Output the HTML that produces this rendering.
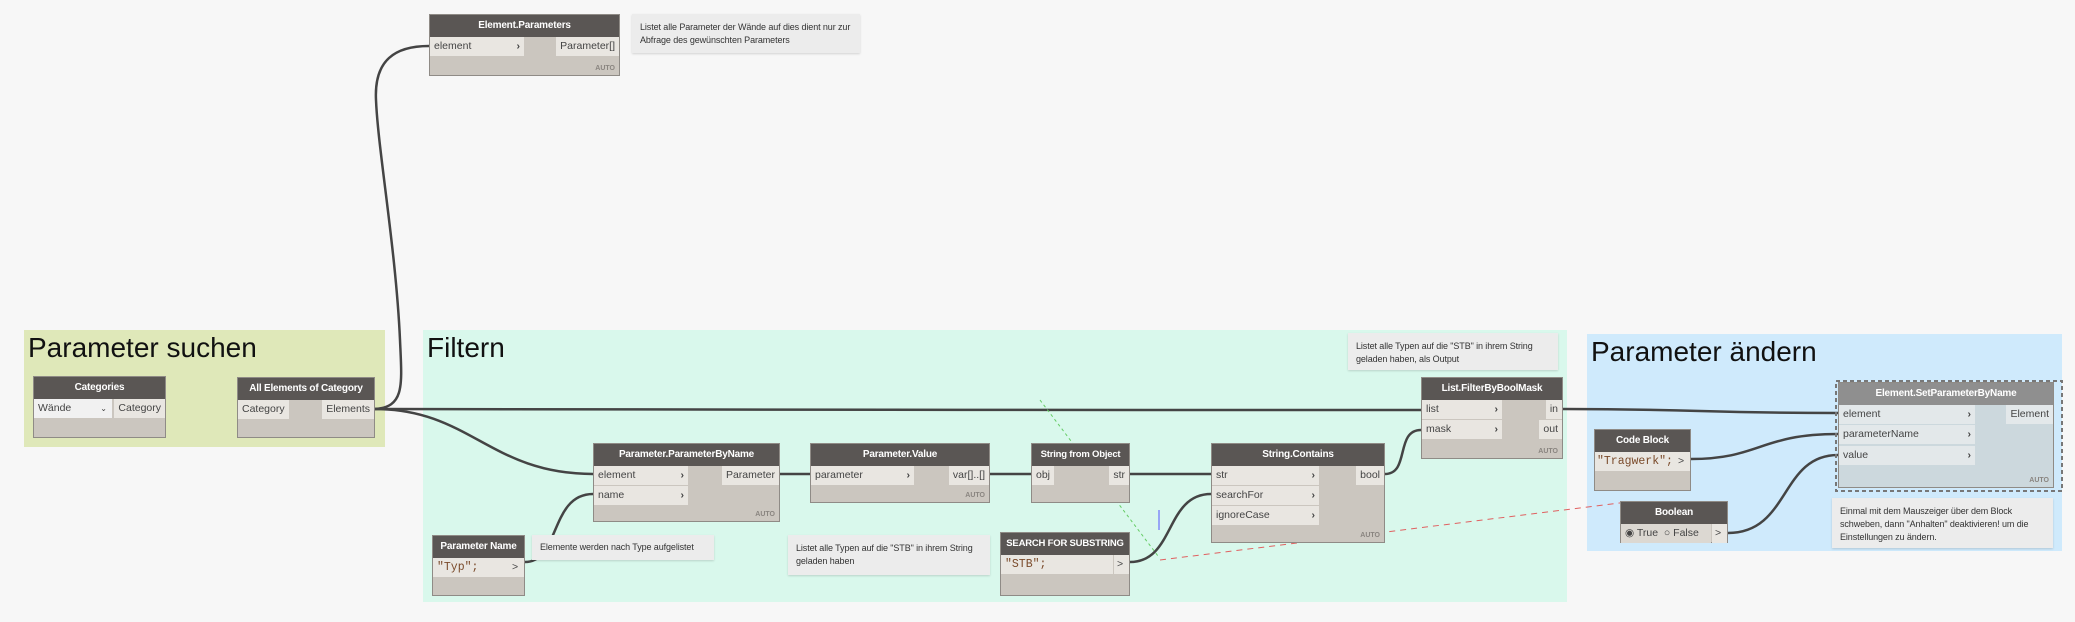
<!DOCTYPE html>
<html><head><meta charset="utf-8"><style>
body{margin:0;width:2075px;height:622px;background:#f7f7f7;position:relative;overflow:hidden;font-family:"Liberation Sans",sans-serif;}
.g{position:absolute;}
.gt{position:absolute;font-size:28px;color:#111;left:4px;top:2px;white-space:nowrap;}
.n{position:absolute;background:#cbc6bf;border:1px solid #8f8b86;box-sizing:border-box;}
.h{background:#5a5654;color:#fff;font-weight:bold;font-size:10px;letter-spacing:-0.2px;text-align:center;height:22px;line-height:22px;white-space:nowrap;overflow:hidden;}
.p{position:absolute;background:#e9e6e1;font-size:10.5px;color:#444;height:19px;line-height:19px;padding:0 4px;box-sizing:border-box;white-space:nowrap;}
.a{position:absolute;font-size:7px;font-weight:bold;color:#8a8580;}
.note{position:absolute;background:#ececec;font-size:9px;letter-spacing:-0.1px;color:#333;padding:7px 8px;box-sizing:border-box;line-height:13px;box-shadow:0 1px 2px rgba(0,0,0,.15);}
.mono{font-family:"Liberation Mono",monospace;color:#7a4a2a;font-size:11.5px;}
</style></head><body>
<div class="g" style="left:24px;top:330px;width:361px;height:117px;background:#dfe8b9"><div class="gt">Parameter suchen</div></div>
<div class="g" style="left:423px;top:330px;width:1144px;height:272px;background:#d9f8ec"><div class="gt">Filtern</div></div>
<div class="g" style="left:1587px;top:334px;width:475px;height:217px;background:#cfeafc"><div class="gt">Parameter ändern</div></div>

<svg width="2075" height="622" style="position:absolute;left:0;top:0" fill="none">
<g stroke="#444" stroke-width="2.5">
<path d="M375 409 C 1000 410, 900 410, 1421 410"/>
<path d="M375 409 C 405 407, 402 385, 400 340 C 396 250, 378 150, 376 100 C 374 60, 395 46, 429 46"/>
<path d="M375 409 C 470 409, 490 474, 593 474"/>
<path d="M525 562 C 560 562, 550 494, 593 494"/>
<path d="M780 474 L810 474"/>
<path d="M990 474 L1031 474"/>
<path d="M1130 474 L1211 474"/>
<path d="M1130 562 C 1175 562, 1165 494, 1211 494"/>
<path d="M1385 474 C 1410 474, 1395 430, 1421 430"/>
<path d="M1563 409 C 1700 409, 1700 413, 1838 413"/>
<path d="M1691 459 C 1760 459, 1760 434, 1838 434"/>
<path d="M1728 533 C 1790 533, 1780 455, 1838 455"/>
</g>
<path d="M1160 560 L1628 502" stroke="#e06060" stroke-width="1" stroke-dasharray="6,5"/>
<path d="M1040 400 L1158 556" stroke="#6c6" stroke-width="1" stroke-dasharray="3,3"/>
<path d="M1159 510 L1159 530" stroke="#55f" stroke-width="1"/>
<rect x="1836" y="381" width="226" height="110" stroke="#777" stroke-width="2" stroke-dasharray="4,3"/>
</svg>

<div class="n" style="left:429px;top:14px;width:191px;height:62px">
<div class="h">Element.Parameters</div>
<div class="p" style="left:0;top:22px;width:94px">element<span style="position:absolute;right:4px;font-weight:bold">›</span></div>
<div class="p" style="right:0;top:22px;">Parameter[]</div>
<div class="a" style="right:4px;bottom:3px">AUTO</div></div>
<div class="note" style="left:632px;top:14px;width:228px;height:39px">Listet alle Parameter der Wände auf dies dient nur zur Abfrage des gewünschten Parameters</div>

<div class="n" style="left:33px;top:376px;width:133px;height:62px">
<div class="h">Categories</div>
<div class="p" style="left:0;top:22px;width:78px;background:#f1f1f1">Wände<span style="position:absolute;right:5px;font-size:8px">⌄</span></div>
<div class="p" style="right:0;top:22px;">Category</div></div>
<div class="n" style="left:237px;top:377px;width:138px;height:61px">
<div class="h">All Elements of Category</div>
<div class="p" style="left:0;top:22px;">Category</div>
<div class="p" style="right:0;top:22px;">Elements</div></div>

<div class="n" style="left:593px;top:443px;width:187px;height:79px">
<div class="h">Parameter.ParameterByName</div>
<div class="p" style="left:0;top:22px;width:94px">element<span style="position:absolute;right:4px;font-weight:bold">›</span></div>
<div class="p" style="left:0;top:42px;width:94px">name<span style="position:absolute;right:4px;font-weight:bold">›</span></div>
<div class="p" style="right:0;top:22px;">Parameter</div>
<div class="a" style="right:4px;bottom:3px">AUTO</div></div>

<div class="n" style="left:810px;top:443px;width:180px;height:60px">
<div class="h">Parameter.Value</div>
<div class="p" style="left:0;top:22px;width:103px">parameter<span style="position:absolute;right:4px;font-weight:bold">›</span></div>
<div class="p" style="right:0;top:22px;">var[]..[]</div>
<div class="a" style="right:4px;bottom:3px">AUTO</div></div>

<div class="n" style="left:1031px;top:443px;width:99px;height:60px">
<div class="h" style="font-size:9.5px">String from Object</div>
<div class="p" style="left:0;top:22px;">obj</div>
<div class="p" style="right:0;top:22px;">str</div></div>

<div class="n" style="left:1211px;top:443px;width:174px;height:100px">
<div class="h">String.Contains</div>
<div class="p" style="left:0;top:22px;width:107px">str<span style="position:absolute;right:4px;font-weight:bold">›</span></div>
<div class="p" style="left:0;top:42px;width:107px">searchFor<span style="position:absolute;right:4px;font-weight:bold">›</span></div>
<div class="p" style="left:0;top:62px;width:107px">ignoreCase<span style="position:absolute;right:4px;font-weight:bold">›</span></div>
<div class="p" style="right:0;top:22px;">bool</div>
<div class="a" style="right:4px;bottom:3px">AUTO</div></div>

<div class="n" style="left:1421px;top:377px;width:142px;height:82px">
<div class="h">List.FilterByBoolMask</div>
<div class="p" style="left:0;top:22px;width:80px">list<span style="position:absolute;right:4px;font-weight:bold">›</span></div>
<div class="p" style="left:0;top:42px;width:80px">mask<span style="position:absolute;right:4px;font-weight:bold">›</span></div>
<div class="p" style="right:0;top:22px;">in</div>
<div class="p" style="right:0;top:42px;">out</div>
<div class="a" style="right:4px;bottom:3px">AUTO</div></div>
<div class="note" style="left:1348px;top:333px;width:210px;height:37px">Listet alle Typen auf die "STB" in ihrem String geladen haben, als Output</div>

<div class="n" style="left:432px;top:535px;width:93px;height:61px">
<div class="h">Parameter Name</div>
<div class="p mono" style="left:0;top:22px;width:76px">"Typ";</div>
<div class="p" style="right:0;top:22px;width:15px;padding:0 3px">&gt;</div></div>
<div class="note" style="left:532px;top:535px;width:182px;height:25px;padding-top:6px;white-space:nowrap">Elemente werden nach Type aufgelistet</div>
<div class="note" style="left:788px;top:535px;width:202px;height:40px">Listet alle Typen auf die "STB" in ihrem String geladen haben</div>

<div class="n" style="left:1000px;top:532px;width:130px;height:64px">
<div class="h" style="font-size:9.5px">SEARCH FOR SUBSTRING</div>
<div class="p mono" style="left:0;top:22px;width:112px">"STB";</div>
<div class="p" style="right:0;top:22px;width:15px;padding:0 3px">&gt;</div></div>

<div class="n" style="left:1594px;top:429px;width:97px;height:62px">
<div class="h">Code Block</div>
<div class="p mono" style="left:0;top:22px;width:80px;padding:0 2px">"Tragwerk";</div>
<div class="p" style="right:0;top:22px;width:15px;padding:0 3px">&gt;</div></div>

<div class="n" style="left:1620px;top:501px;width:108px;height:42px">
<div class="h">Boolean</div>
<div class="p" style="left:0;top:22px;width:90px;background:#dcd8d2">◉ True &nbsp;○ False</div>
<div class="p" style="right:0;top:22px;width:15px;padding:0 3px">&gt;</div></div>

<div class="n" style="left:1838px;top:382px;width:216px;height:106px;background:#ccd8dd">
<div class="h" style="background:#8f8f8f">Element.SetParameterByName</div>
<div class="p" style="left:0;top:22px;width:136px;background:#e3e8ea">element<span style="position:absolute;right:4px;font-weight:bold">›</span></div>
<div class="p" style="left:0;top:42px;width:136px;background:#e3e8ea">parameterName<span style="position:absolute;right:4px;font-weight:bold">›</span></div>
<div class="p" style="left:0;top:63px;width:136px;background:#e3e8ea">value<span style="position:absolute;right:4px;font-weight:bold">›</span></div>
<div class="p" style="right:0;top:22px;background:#e3e8ea">Element</div>
<div class="a" style="right:4px;bottom:3px">AUTO</div></div>
<div class="note" style="left:1832px;top:498px;width:221px;height:50px">Einmal mit dem Mauszeiger über dem Block schweben, dann "Anhalten" deaktivieren! um die Einstellungen zu ändern.</div>
</body></html>
